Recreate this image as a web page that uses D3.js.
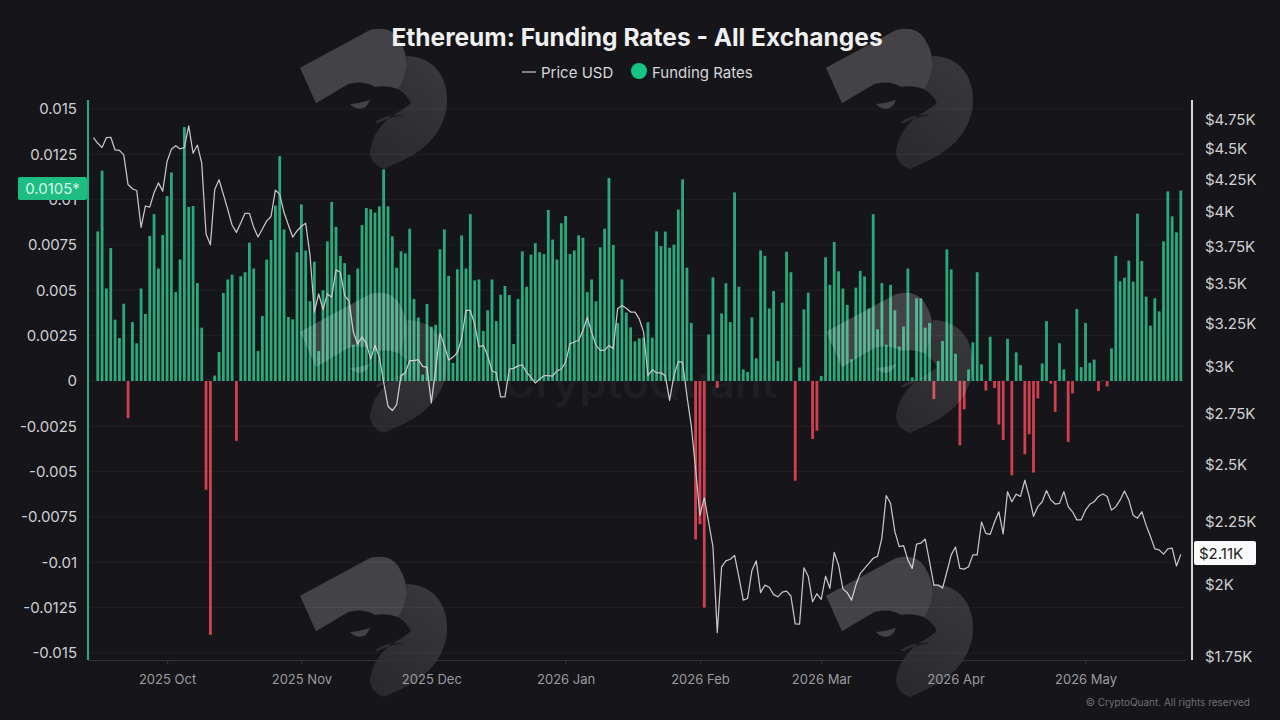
<!DOCTYPE html>
<html>
<head>
<meta charset="utf-8">
<title>Ethereum: Funding Rates - All Exchanges</title>
<script src="https://cdn.jsdelivr.net/npm/d3@7"></script>
<style>
    html, body { margin: 0; padding: 0; background: #15151a; }
    svg { display: block; font-family: Inter, sans-serif; }
</style>
</head>
<body>
<svg id="chart" width="1280" height="720"></svg>
<script>
// Daily funding rate, first bar on 2025-09-15
const fundingRates = [
    0.00825, 0.0116, 0.0051, 0.00733, 0.00338, 0.00237, 0.00426, -0.00205, 0.00325, 0.00208,
    0.0051, 0.0037, 0.008, 0.0092, 0.0062, 0.00805, 0.0102, 0.0115, 0.0049, 0.0067,
    0.014, 0.0096, 0.00965, 0.0054, 0.00294, -0.006, -0.014, 0.0003, 0.0016, 0.00485,
    0.0056, 0.00586, -0.0033, 0.00577, 0.006, 0.00763, 0.0062, 0.00165, 0.00358, 0.0067,
    0.00778, 0.00967, 0.0124, 0.00836, 0.00353, 0.0034, 0.0071, 0.00974, 0.00719, 0.0044,
    0.00658, 0.00165, 0.005, 0.0077, 0.00987, 0.0085, 0.0069, 0.0065, 0.00586,
    0.002, 0.0062, 0.0086, 0.00954, 0.00947, 0.00928, 0.00963, 0.01167, 0.00963, 0.00798,
    0.00625, 0.00715, 0.00704, 0.0084, 0.00452, 0.0035, 0.00035, 0.00425, 0.003, 0.0031,
    0.00726, 0.00836, 0.0058, 0.001, 0.00616, 0.00803, 0.0062, 0.0092, 0.00555, 0.0056,
    0.00276, 0.0039, 0.0056, 0.0033, 0.00476, 0.00524, 0.00474, 0.00204, 0.00452, 0.00715,
    0.0052, 0.00697, 0.0076, 0.0071, 0.007, 0.00943, 0.0078, 0.0067, 0.0087, 0.0091,
    0.007, 0.0072, 0.00803, 0.0079, 0.0049, 0.0056, 0.0044, 0.00737, 0.0084, 0.0112,
    0.0075, 0.0032,
    0.0056, 0.00377, 0.00296, 0.00219, 0.00235, 0.00239, 0.00324, 0.00239, 0.00825, 0.00744,
    0.00824, 0.00735, 0.00752, 0.00945, 0.01112, 0.00625, 0.0032, -0.00874, -0.0079, -0.0125,
    0.00257, 0.00572, -0.00037, 0.00373, 0.00539, 0.00325, 0.0104, 0.0052, 0.00064, 0.0005,
    0.0035, 0.00125, 0.0072, 0.0069, 0.004, 0.00496, 0.0011, 0.00432, 0.00713, 0.006,
    -0.0055, 0.00074, 0.00395, 0.00487, -0.0032, -0.00274, 0.00028, 0.00682, 0.0053, 0.00767,
    0.00605, 0.0051, 0.0042, 0.0012, 0.00515, 0.00607, 0.00577, 0.004, 0.0092, 0.00285,
    0.0054, 0.002, 0.0053, 0.0039, 0.0019,
    0.003, 0.0062, 0.0002, 0.00456, 0.00456, 0.00294, 0.0032, -0.001, 0.0011, 0.0022,
    0.00726, 0.00616, 0.0015, -0.00355, -0.00156, 0.00064, 0.00213, 0.006, 0.00092, -0.00053,
    0.00244, -0.00039, -0.0024, -0.00325, 0.00233, -0.0052, 0.00158, 0.00088, -0.00404, -0.00294,
    -0.00505, -0.00096, 0.00097, 0.0033, -0.00015, -0.0017, 0.00208, 0.00064, -0.00336, -0.00068,
    0.00397, 0.00077, 0.0032, 0.001, 0.00118, -0.00055, 0.00002, -0.0003, 0.0018, 0.0069,
    0.0055, 0.0057, 0.00664, 0.00548, 0.00923, 0.00662, 0.00465, 0.00305, 0.00456, 0.00384,
    0.0077, 0.01046, 0.00908, 0.0082, 0.0105
];

// Daily ETH price in USD, first point on 2025-09-14
const prices = [
    4580,
    4532, 4497, 4580, 4583, 4476, 4473, 4435, 4197, 4164, 4151,
    3876, 4033, 4025, 4134, 4210, 4146, 4381, 4481, 4511, 4484,
    4497, 4681, 4449, 4517, 4368, 3829, 3752, 4159, 4235, 4121,
    4008, 3893, 3840, 3907, 3979, 3979, 3876, 3807, 3864, 3923,
    3955, 4154, 4121, 3984, 3893, 3807, 3850, 3884, 3905, 3678,
    3311, 3425, 3327, 3425, 3404, 3581, 3566, 3414, 3380, 3190,
    3122, 3161, 3122, 3035, 3112, 3045, 2906, 2779, 2757, 2788,
    2942, 2957, 3025, 3025, 3031, 2993, 2987, 2797, 2978, 3184,
    3112, 3029, 3045, 3070, 3151, 3321, 3321, 3238, 3103, 3112,
    3054, 2969, 2957, 2828, 2828, 2978, 2982, 2996, 3002, 2960,
    2933, 2902, 2924, 2942, 2942, 2939, 2969, 2978, 3016, 3122,
    3132, 3142, 3199, 3279, 3190, 3112, 3083, 3083, 3112, 3093,
    3331, 3352, 3335, 3311, 3311, 3269, 3190, 2942, 2974, 2957,
    2957, 2942, 2810, 2942, 3020, 3016, 2833, 2679, 2474, 2269,
    2345, 2241, 2141, 1824, 2062, 2085, 2091, 2106, 2023, 1938,
    1944, 2048, 2085, 1965, 1993, 1985, 1958, 1950, 1967, 1971,
    1953, 1854, 1853, 2058, 2026, 1932, 1961, 1941, 2026, 1981,
    2118, 2069, 1979, 1965, 1938, 1993, 2036, 2056, 2075, 2095,
    2102, 2175, 2354, 2320, 2201, 2141, 2145, 2088, 2056, 2151,
    2155, 2171, 2082, 1993, 1993, 1982, 2042, 2108, 2139, 2056,
    2053, 2062, 2108, 2108, 2241, 2194, 2190, 2241, 2284, 2192,
    2371, 2327, 2360, 2350, 2422, 2350, 2265, 2306, 2327, 2376,
    2335, 2317, 2320, 2371, 2306, 2284, 2250, 2250, 2291, 2316,
    2327, 2350, 2361, 2350, 2291, 2306, 2335, 2374, 2335, 2269,
    2257, 2284, 2227, 2181, 2132, 2128, 2111, 2132, 2135, 2065,
    2110
];

const fundingTicks = [0.015, 0.0125, 0.01, 0.0075, 0.005, 0.0025, 0, -0.0025, -0.005, -0.0075, -0.01, -0.0125, -0.015];
const priceTicks = [4750, 4500, 4250, 4000, 3750, 3500, 3250, 3000, 2750, 2500, 2250, 2000, 1750];
const firstBarDate = new Date(Date.UTC(2025, 8, 15));
const firstPriceDate = new Date(Date.UTC(2025, 8, 14));
const lastFunding = "0.0105*";
const lastPrice = "$2.11K";

const svg = d3.select("#chart");

svg.append("rect").attr("width", 1280).attr("height", 720).attr("fill", "#15151a");

// Scales
const x = d3.scaleUtc()
    .domain([new Date(Date.UTC(2025, 8, 12, 18)), new Date(Date.UTC(2026, 4, 25, 14))])
    .range([88, 1192]);
const yFunding = d3.scaleLinear().domain([-0.015, 0.015]).range([653, 109]);
const yPrice = d3.scaleLog().domain([1750, 4750]).range([655, 118]);

// Grid
svg.append("g").selectAll("line")
    .data(fundingTicks)
    .enter().append("line")
    .attr("x1", 88)
    .attr("x2", 1186)
    .attr("y1", d => yFunding(d))
    .attr("y2", d => yFunding(d))
    .attr("stroke", "#1f1f25");

// Faint wordmark behind the bars
svg.append("text")
    .attr("x", 640)
    .attr("y", 398)
    .attr("text-anchor", "middle")
    .attr("font-size", 44)
    .attr("font-weight", 600)
    .attr("fill", "#1e1e23")
    .text("CryptoQuant");

// Funding bars
svg.append("g").selectAll("rect")
    .data(fundingRates)
    .enter().append("rect")
    .attr("x", (d, i) => x(d3.utcDay.offset(firstBarDate, i)) - 1.4)
    .attr("width", 2.8)
    .attr("y", d => Math.min(yFunding(d), yFunding(0)))
    .attr("height", d => Math.abs(yFunding(d) - yFunding(0)))
    .attr("fill", d => d >= 0 ? "#2aa97b" : "#d0404f");

// Price line
const line = d3.line()
    .x((d, i) => x(d3.utcDay.offset(firstPriceDate, i)))
    .y(d => yPrice(d));

svg.append("path")
    .datum(prices)
    .attr("d", line)
    .attr("fill", "none")
    .attr("stroke", "#c6c6c9")
    .attr("stroke-width", 1.25)
    .attr("stroke-linejoin", "round");

// Watermark logo, repeated on a 2 x 3 grid
const defs = svg.append("defs");
const hookGradient = defs.append("linearGradient")
    .attr("id", "hookFill")
    .attr("x1", 0.8).attr("y1", 0)
    .attr("x2", 0.3).attr("y2", 1);
hookGradient.append("stop").attr("offset", 0).attr("stop-color", "#fff").attr("stop-opacity", 0.15);
hookGradient.append("stop").attr("offset", 1).attr("stop-color", "#fff").attr("stop-opacity", 0.09);

const logo = defs.append("g").attr("id", "logo");
logo.append("path")
    .attr("d", "M30,143 L240,30 Q300,15 325,55 Q352,100 350,135 Q345,175 325,208 Q295,195 255,200 Q215,180 175,192 L78,250 Z")
    .attr("fill", "#fff")
    .attr("fill-opacity", 0.2);
logo.append("path")
    .attr("fill-rule", "evenodd")
    .attr("d", "M350,108 Q430,110 460,180 Q490,260 440,340 Q400,395 340,420 L282,447 Q240,430 240,395 Q245,340 300,290 Q340,270 362,250 Q355,228 325,208 Q345,175 350,135 Z M255,305 Q300,278 342,287 Q300,288 262,310 Z")
    .attr("fill", "url(#hookFill)");
logo.append("path")
    .attr("d", "M180,252 Q210,250 240,240 Q230,268 205,266 Q190,264 180,252 Z")
    .attr("fill", "#fff")
    .attr("fill-opacity", 0.2);

[290, 816].forEach(lx => {
    [20, 284, 548].forEach(ly => {
        svg.append("use")
            .attr("href", "#logo")
            .attr("transform", `translate(${lx},${ly}) scale(${1 / 3})`);
    });
});

// Bottom axis
const xAxis = d3.axisBottom(x)
    .ticks(d3.utcMonth.every(1))
    .tickFormat(d3.utcFormat("%Y %b"))
    .tickSize(4)
    .tickPadding(11);

const xGroup = svg.append("g").attr("transform", "translate(0,660)").call(xAxis);
xGroup.select(".domain").attr("stroke", "#333338").attr("d", "M88,0.5H1186");
xGroup.selectAll(".tick line").attr("stroke", "#333338");
xGroup.selectAll("text")
    .attr("font-family", "Inter, sans-serif")
    .attr("font-size", 13)
    .attr("fill", "#9c9c9e");

// Left axis
const leftAxis = d3.axisLeft(yFunding)
    .tickValues(fundingTicks)
    .tickFormat(d => String(d))
    .tickSize(0)
    .tickPadding(11);

const leftGroup = svg.append("g").attr("transform", "translate(88,0)").call(leftAxis);
leftGroup.select(".domain").attr("stroke", "#1fae7c").attr("stroke-width", 2).attr("d", "M0,100V660");
leftGroup.selectAll("text")
    .attr("font-family", "Inter, sans-serif")
    .attr("font-size", 15)
    .attr("fill", "#d0d0d2");

// Right axis
const rightAxis = d3.axisRight(yPrice)
    .tickValues(priceTicks)
    .tickFormat(d => "$" + d / 1000 + "K")
    .tickSize(0)
    .tickPadding(13);

const rightGroup = svg.append("g").attr("transform", "translate(1192,0)").call(rightAxis);
rightGroup.select(".domain").attr("stroke", "#d8d8da").attr("stroke-width", 2).attr("d", "M0,100V660");
rightGroup.selectAll("text")
    .attr("font-family", "Inter, sans-serif")
    .attr("font-size", 15)
    .attr("dy", "0.42em")
    .attr("fill", "#d0d0d2");

// Current value tags
svg.append("rect")
    .attr("x", 18).attr("y", 177)
    .attr("width", 69).attr("height", 23)
    .attr("rx", 2)
    .attr("fill", "#1dbd84");
svg.append("text")
    .attr("x", 52.5).attr("y", 194)
    .attr("text-anchor", "middle")
    .attr("font-size", 15)
    .attr("fill", "#d6f7e9")
    .text(lastFunding);

svg.append("rect")
    .attr("x", 1194).attr("y", 541)
    .attr("width", 62).attr("height", 24)
    .attr("rx", 2)
    .attr("fill", "#fafafa");
svg.append("text")
    .attr("x", 1199).attr("y", 559)
    .attr("font-size", 15)
    .attr("fill", "#1b1b20")
    .text(lastPrice);

// Title
svg.append("text")
    .attr("x", 637).attr("y", 46)
    .attr("text-anchor", "middle")
    .attr("font-size", 24.5)
    .attr("font-weight", 700)
    .attr("fill", "#f0f0f1")
    .text("Ethereum: Funding Rates - All Exchanges");

// Legend
svg.append("line")
    .attr("x1", 522).attr("x2", 536)
    .attr("y1", 72).attr("y2", 72)
    .attr("stroke", "#c6c6c9")
    .attr("stroke-width", 1.25);
svg.append("text")
    .attr("x", 541).attr("y", 78)
    .attr("font-size", 15)
    .attr("fill", "#d8d8da")
    .text("Price USD");
svg.append("circle")
    .attr("cx", 639).attr("cy", 71)
    .attr("r", 8)
    .attr("fill", "#17c487");
svg.append("text")
    .attr("x", 652).attr("y", 78)
    .attr("font-size", 15)
    .attr("fill", "#d8d8da")
    .text("Funding Rates");

// Footer
svg.append("text")
    .attr("x", 1250).attr("y", 706)
    .attr("text-anchor", "end")
    .attr("font-size", 10)
    .attr("fill", "#6f6f72")
    .text("© CryptoQuant. All rights reserved");
</script>
</body>
</html>
